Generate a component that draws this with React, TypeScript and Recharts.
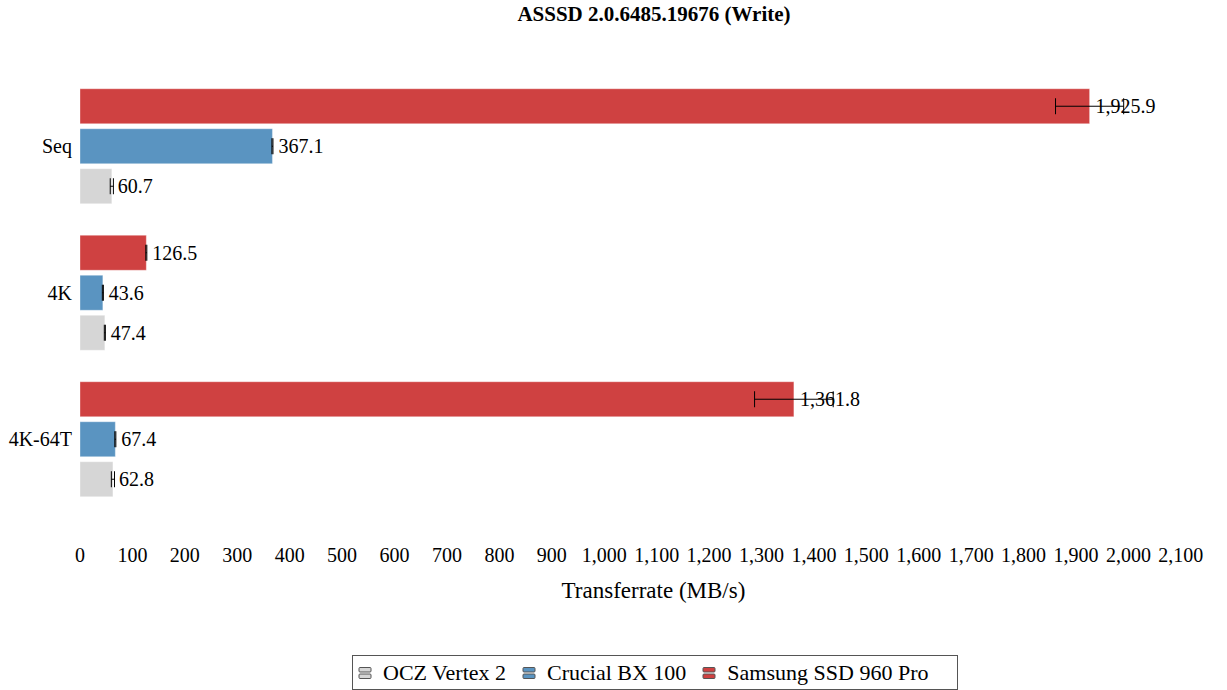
import { BarChart, Bar, XAxis, YAxis, ErrorBar, LabelList } from 'recharts';

const categories = ['Seq', '4K', '4K-64T'];
const samsung = [1925.9, 126.5, 1361.8];
const crucial = [367.1, 43.6, 67.4];
const ocz = [60.7, 47.4, 62.8];
const samsungErr = [65, 1, 75];
const crucialErr = [1, 1, 1];
const oczErr = [3, 1, 3];
const xTicks = [0, 100, 200, 300, 400, 500, 600, 700, 800, 900, 1000, 1100, 1200, 1300, 1400, 1500, 1600, 1700, 1800, 1900, 2000, 2100];

const series = [
  { key: 'samsung', name: 'Samsung SSD 960 Pro', color: '#cf4141' },
  { key: 'crucial', name: 'Crucial BX 100', color: '#5a94c1' },
  { key: 'ocz', name: 'OCZ Vertex 2', color: '#d6d6d6' },
];

const data = categories.map((c, i) => ({
  name: c,
  samsung: samsung[i],
  crucial: crucial[i],
  ocz: ocz[i],
  samsungErr: samsungErr[i],
  crucialErr: crucialErr[i],
  oczErr: oczErr[i],
}));

const font = '"Liberation Serif", serif';
const fmt = (v: number) =>
  Number(v).toLocaleString('en-US', { minimumFractionDigits: 1, maximumFractionDigits: 1 });
const fmtTick = (v: number) => Number(v).toLocaleString('en-US');

function LegendIcon({ color }: { color: string }) {
  return (
    <svg width={14} height={14} style={{ marginRight: 11 }}>
      <rect x={1} y={1.5} width={12} height={4.5} rx={1} fill={color} stroke="#555" strokeWidth={1} />
      <rect x={1} y={8} width={12} height={4.5} rx={1} fill={color} stroke="#555" strokeWidth={1} />
    </svg>
  );
}

export default function App() {
  const legendItems = [...series].reverse();
  return (
    <div style={{ position: 'absolute', left: 0, top: 0, width: 1227, height: 690, fontFamily: font, background: '#fff' }}>
      <div
        style={{
          position: 'absolute',
          top: 2,
          left: 0,
          width: 1308,
          textAlign: 'center',
          fontWeight: 'bold',
          fontSize: 21,
        }}
      >
        ASSSD 2.0.6485.19676 (Write)
      </div>
      <BarChart
        width={1227}
        height={690}
        data={data}
        layout="vertical"
        margin={{ top: 73, right: 0, bottom: 77.5, left: 0 }}
        barCategoryGap="10.75%"
        barGap={5}
      >
        <XAxis
          type="number"
          domain={[0, 2188]}
          ticks={xTicks}
          tickFormatter={fmtTick}
          axisLine={false}
          tickLine={false}
          tickMargin={29}
          height={100}
          tick={{ fill: '#000', fontSize: 20, fontFamily: font }}
          interval={0}
          label={{ value: 'Transferrate (MB/s)', position: 'insideBottom', offset: 15, fill: '#000', fontSize: 23, fontFamily: font }}
        />
        <YAxis
          type="category"
          dataKey="name"
          width={80}
          axisLine={false}
          tickLine={false}
          tick={{ fill: '#000', fontSize: 20, fontFamily: font }}
        />
        {series.map((s) => (
          <Bar key={s.key} dataKey={s.key} name={s.name} fill={s.color} stroke="#ffffff" strokeOpacity={0.35} isAnimationActive={false}>
            <ErrorBar dataKey={`${s.key}Err`} direction="x" width={8} stroke="#000" strokeWidth={1} />
            <LabelList dataKey={s.key} position="right" offset={6} formatter={fmt} fill="#000" fontSize={20} fontFamily={font} />
          </Bar>
        ))}
      </BarChart>
      <div
        style={{
          position: 'absolute',
          top: 655,
          left: 352,
          width: 599,
          height: 33,
          paddingLeft: 5,
          border: '1px solid #555',
          display: 'flex',
          alignItems: 'center',
          justifyContent: 'flex-start',
          fontSize: 22,
          boxSizing: 'content-box',
        }}
      >
        {legendItems.map((s, i) => (
          <div key={s.key} style={{ display: 'flex', alignItems: 'center', marginLeft: i === 0 ? 0 : 16 }}>
            <LegendIcon color={s.color} />
            <span>{s.name}</span>
          </div>
        ))}
      </div>
    </div>
  );
}
